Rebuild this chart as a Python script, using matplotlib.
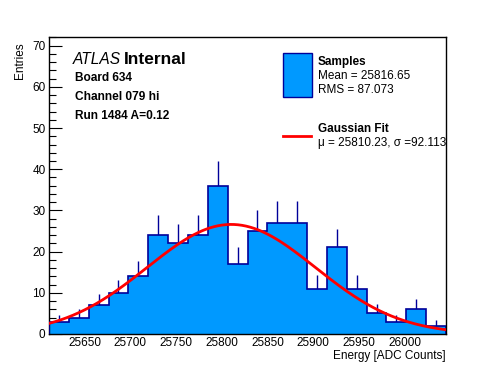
import numpy as np
import matplotlib.pyplot as plt
from matplotlib.ticker import MultipleLocator

plt.rcParams['font.family'] = ['Liberation Sans', 'DejaVu Sans']

# histogram (20 bins)
bin_lo = 25611.0
bin_hi = 26045.0
counts = [3, 4, 7, 10, 14, 24, 22, 24, 36, 17, 25, 27, 27, 11, 21, 11, 5, 3, 6, 2]

# gaussian fit
fit_mu = 25810.23
fit_sigma = 92.113
fit_amp = 26.6

mean_txt = 'Mean = 25816.65'
rms_txt = 'RMS = 87.073'

W, H = 496, 372
fig = plt.figure(figsize=(W / 100, H / 100), dpi=100)
ax = fig.add_axes([49 / W, (H - 334) / H, (446 - 49) / W, (334 - 37) / H])

counts = np.array(counts, dtype=float)
edges = np.linspace(bin_lo, bin_hi, len(counts) + 1)
centers = 0.5 * (edges[:-1] + edges[1:])

fill_col = '#0099ff'
line_col = '#000099'

# error bars (only the upper half shows above the fill)
ax.vlines(centers, counts, counts + np.sqrt(counts), color=line_col, lw=1, zorder=1)
ax.stairs(counts, edges, fill=True, color=fill_col, zorder=2)
ax.stairs(counts, edges, fill=False, color=line_col, lw=1.2, zorder=3)

xs = np.linspace(bin_lo, bin_hi, 400)
ax.plot(xs, fit_amp * np.exp(-0.5 * ((xs - fit_mu) / fit_sigma) ** 2), color='red', lw=2, zorder=4)

ax.set_xlim(bin_lo, bin_hi)
ax.set_ylim(0, 72.1)
ax.xaxis.set_major_locator(MultipleLocator(50))
ax.xaxis.set_minor_locator(MultipleLocator(10))
ax.yaxis.set_major_locator(MultipleLocator(10))
ax.yaxis.set_minor_locator(MultipleLocator(2))
ax.tick_params(which='both', direction='in', labelsize=8.5, color='black')
ax.tick_params(which='major', length=9, width=0.8)
ax.tick_params(which='minor', length=5, width=0.8)
ax.tick_params(axis='x', pad=2.5)
ax.tick_params(axis='y', pad=2.5)
for s in ax.spines.values():
    s.set_linewidth(1)

fig.text(446 / W, 1 - 356 / H, 'Energy [ADC Counts]', ha='right', va='center', fontsize=8.5)
fig.text(19.5 / W, 1 - 42 / H, 'Entries', ha='center', va='top', rotation=90, fontsize=8.5)

# labels
fig.text(73 / W, 1 - 59 / H, 'ATLAS', style='italic', fontsize=11.2, va='center')
fig.text(124 / W, 1 - 59 / H, 'Internal', weight='bold', fontsize=12.5, va='center')
for y, t in [(78, 'Board 634'), (97, 'Channel 079 hi'), (116, 'Run 1484 A=0.12')]:
    fig.text(75 / W, 1 - y / H, t, weight='bold', fontsize=8.6, va='center')

# legend
fig.patches.append(plt.Rectangle((283 / W, 1 - 97 / H), 28.5 / W, 44 / H, transform=fig.transFigure,
                                 facecolor=fill_col, edgecolor=line_col, lw=1))
fig.lines.append(plt.Line2D([283 / W, 311 / W], [1 - 136 / H] * 2, transform=fig.transFigure, color='red', lw=2))
fig.text(318 / W, 1 - 61.5 / H, 'Samples', weight='bold', fontsize=8.5, va='center')
fig.text(318 / W, 1 - 76 / H, mean_txt, fontsize=8.5, va='center')
fig.text(318 / W, 1 - 90 / H, rms_txt, fontsize=8.5, va='center')
fig.text(318 / W, 1 - 129 / H, 'Gaussian Fit', weight='bold', fontsize=8.5, va='center')
fig.text(318 / W, 1 - 143 / H, 'μ = %.2f, σ =%.3f' % (fit_mu, fit_sigma), fontsize=8.5, va='center')

plt.savefig('out.png', dpi=100)
